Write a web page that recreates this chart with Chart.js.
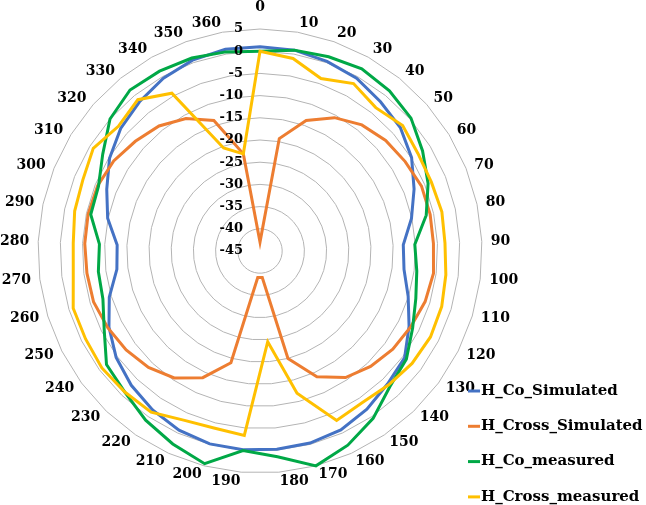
<!DOCTYPE html>
<html>
<head>
<meta charset="utf-8">
<script src="https://cdn.jsdelivr.net/npm/chart.js@4/dist/chart.umd.min.js"></script>
<style>
html,body{margin:0;padding:0;background:#ffffff;}
canvas{display:block;}
</style>
</head>
<body>
<canvas id="chart" width="646" height="505"></canvas>
<script>
// ---- data ----
const angleLabels = ['0','10','20','30','40','50','60','70','80','90','100','110','120','130','140','150','160','170','180',
  '190','200','210','220','230','240','250','260','270','280','290','300','310','320','330','340','350','360'];

const hCoSimulated = [1.0, 0.9, 0.3, -0.4, -1.8, -2.9, -4.9, -7.6, -10.1, -12.7, -12.3, -10.1, -7.4, -4.5, -3.5, -2.0, -0.8, -0.3, -0.2,
  -0.1, -0.1, -0.7, -1.8, -3.1, -4.7, -6.9, -9.5, -12.5, -12.8, -9.9, -7.8, -5.2, -3.2, -1.8, -0.4, 0.6, 1.1];

const hCrossSimulated = [-43.0, -19.3, -13.8, -10.6, -8.5, -7.3, -6.6, -5.8, -5.8, -5.9, -5.6, -6.1, -7.0, -7.8, -9.0, -10.6, -13.9, -20.0, -39.0,
  -39.0, -19.0, -13.7, -10.5, -8.7, -7.5, -6.6, -5.8, -5.7, -5.5, -5.4, -5.6, -6.3, -7.6, -8.8, -10.8, -13.8, -22.8];

const hCoMeasured = [0.0, 0.9, 1.4, 2.0, 1.4, 0.3, -2.0, -4.2, -6.7, -10.1, -9.4, -8.3, -6.5, -4.0, -2.7, 0.5, 3.0, 5.0, 1.5,
  0.1, 4.5, 2.7, 1.0, -1.0, -2.0, -5.7, -8.0, -8.3, -8.8, -6.0, -5.8, -3.4, 0.0, 1.6, 1.4, 1.1, 0.5];

const hCrossMeasured = [0.0, -1.0, -3.8, -1.8, -3.5, -2.2, -3.2, -3.4, -3.1, -3.3, -2.8, -2.2, -2.0, -2.4, -3.2, -3.8, -3.1, -11.9, -24.5,
  -3.3, -3.8, -3.2, -1.2, -1.0, -0.7, -1.0, -1.0, -2.6, -2.9, -2.3, -2.0, -0.9, -2.5, -1.2, -4.3, -20.4, -22.8];

const seriesNames = ['H_Co_Simulated', 'H_Cross_Simulated', 'H_Co_measured', 'H_Cross_measured'];
const seriesColors = ['#4472C4', '#ED7D31', '#00A846', '#FFC000'];
const seriesValues = [hCoSimulated, hCrossSimulated, hCoMeasured, hCrossMeasured];

const tickValues = [5, 0, -5, -10, -15, -20, -25, -30, -35, -40, -45];
const axisMin = -45, axisMax = 5, axisStep = 5;

// ---- text drawn from the radial scale ----
const axisTextPlugin = {
  id: 'axisText',
  afterDatasetsDraw(chart) {
    const s = chart.scales.r;
    const ctx = chart.ctx;
    ctx.save();
    ctx.fillStyle = '#000000';
    ctx.textBaseline = 'middle';
    // category labels around the circle
    ctx.font = 'bold 14px "DejaVu Serif"';
    angleLabels.forEach((lab, i) => {
      const p = s.getPointPosition(i, s.drawingArea + 9);
      const sn = Math.sin(s.getIndexAngle(i));
      let y = p.y;
      if (Math.abs(sn) < 1e-6) { ctx.textAlign = 'center'; y = p.y - 13; }
      else ctx.textAlign = sn > 0 ? 'left' : 'right';
      ctx.fillText(lab, p.x, y);
    });
    // radial tick labels
    ctx.font = 'bold 13px "DejaVu Serif"';
    ctx.textAlign = 'right';
    tickValues.forEach(v => {
      const d = s.getDistanceFromCenterForValue(v);
      ctx.fillText(String(v), s.xCenter - 17, s.yCenter - d);
    });
    // legend
    ctx.font = 'bold 15px "DejaVu Serif"';
    ctx.textAlign = 'left';
    chart.data.datasets.forEach((ds, i) => {
      const y = 391 + i * 35.3;
      ctx.strokeStyle = ds.borderColor;
      ctx.lineWidth = 3;
      ctx.beginPath();
      ctx.moveTo(468, y);
      ctx.lineTo(480, y);
      ctx.stroke();
      ctx.fillStyle = '#000000';
      ctx.fillText(ds.label, 481, y);
    });
    ctx.restore();
  }
};

const datasets = seriesNames.map((name, i) => ({
  label: name,
  data: seriesValues[i],
  borderColor: seriesColors[i],
  backgroundColor: seriesColors[i],
  fill: false,
  order: seriesNames.length - i
}));

new Chart(document.getElementById('chart'), {
  type: 'radar',
  data: { labels: angleLabels, datasets: datasets },
  options: {
    responsive: false,
    animation: false,
    devicePixelRatio: 1,
    layout: { padding: { left: 38, top: 29, right: 164, bottom: 32 } },
    plugins: { legend: { display: false }, tooltip: { enabled: false } },
    elements: {
      line: { tension: 0, borderWidth: 3 },
      point: { radius: 0, hoverRadius: 0 }
    },
    scales: {
      r: {
        min: axisMin,
        max: axisMax,
        startAngle: 0,
        ticks: { display: false, stepSize: axisStep },
        grid: { circular: false, color: '#b4b4b4', lineWidth: 1 },
        angleLines: { display: false },
        pointLabels: { display: false }
      }
    }
  },
  plugins: [axisTextPlugin]
});
</script>
</body>
</html>
